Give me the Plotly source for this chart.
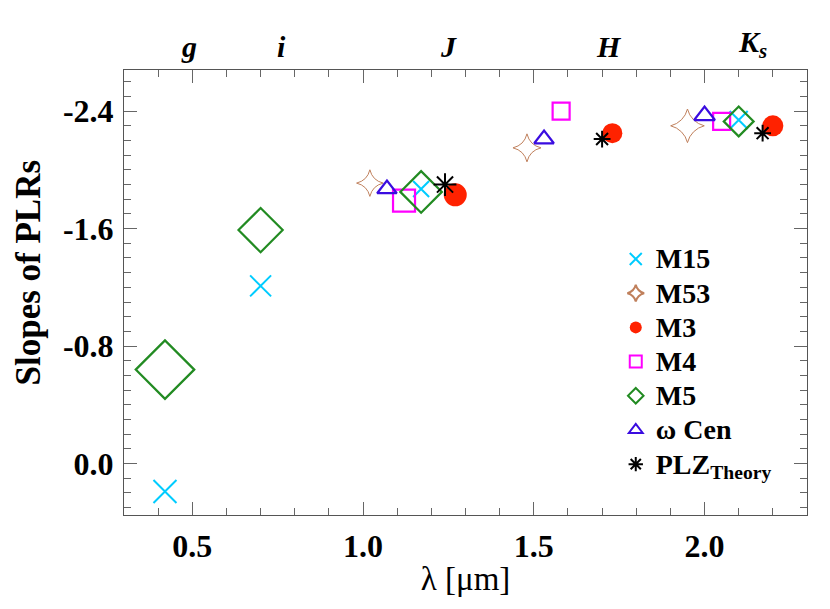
import plotly.graph_objects as go

# wavelength (micron) and PLR slope for each cluster
m15_x = [0.42, 0.70, 1.17, 2.10]
m15_y = [0.19, -1.21, -1.87, -2.34]
m15_size = [23, 21, 16, 18]

m53_x = [1.02, 1.48, 1.95]
m53_y = [-1.91, -2.15, -2.30]
m53_size = [19, 20, 24]

m3_x = [1.27, 1.73, 2.20]
m3_y = [-1.83, -2.25, -2.30]
m3_size = [23, 20, 21]

m4_x = [1.12, 1.58, 2.05]
m4_y = [-1.79, -2.40, -2.33]
m4_size = [22, 17, 17]

m5_x = [0.42, 0.70, 1.17, 2.10]
m5_y = [-0.64, -1.59, -1.85, -2.33]
m5_size = [45, 34, 32, 23]

wcen_x = [1.07, 1.53, 2.00]
wcen_y = [-1.87, -2.21, -2.37]
wcen_size = [17, 17, 18]

plz_x = [1.24, 1.70, 2.17]
plz_y = [-1.90, -2.21, -2.25]
plz_size = [19, 14, 14]

# axis ticks (plain hyphen like the original, not the unicode minus)
x_ticks = [0.5, 1.0, 1.5, 2.0]
x_ticktext = ['0.5', '1.0', '1.5', '2.0']
y_ticks = [-2.4, -1.6, -0.8, 0.0]
y_ticktext = ['-2.4', '-1.6', '-0.8', '0.0']

# photometric band labels along the top axis
band_labels = ['g', 'i', 'J', 'H', 'K<sub>s</sub>']
band_x = [0.49, 0.76, 1.25, 1.72, 2.14]

serif = 'Liberation Serif'


def big(txt):
    # larger legend text without making the legend rows taller
    return '<span style="font-size:28px">' + txt + '</span>'


fig = go.Figure()

series = [
    ('M15', m15_x, m15_y, m15_size, 'x-thin-open', '#00ccff', 2),
    ('M53', m53_x, m53_y, m53_size, 'star-diamond-open', '#c0805c', 1),
    ('M3', m3_x, m3_y, m3_size, 'circle', '#ff2200', 0),
    ('M4', m4_x, m4_y, m4_size, 'square-open', '#ff00ff', 2.2),
    ('M5', m5_x, m5_y, m5_size, 'diamond-open', '#228b22', 2.2),
    ('ω Cen', wcen_x, wcen_y, wcen_size, 'triangle-up-open', '#3a0ce0', 2.2),
    ('PLZ<sub>Theory</sub>', plz_x, plz_y, plz_size, 'asterisk-open', '#000000', 2),
]

for name, xs, ys, sz, sym, col, lw in series:
    fig.add_trace(go.Scatter(
        x=xs, y=ys, mode='markers', name=big(name),
        marker=dict(symbol=sym, size=sz, color=col, opacity=1,
                    line=dict(color=col, width=lw)),
    ))

annots = []
for lab, bx in zip(band_labels, band_x):
    annots.append(dict(
        x=bx, y=1, xref='x', yref='paper', yanchor='bottom',
        yshift=5, showarrow=False, text=lab,
        font=dict(family=serif, size=30, color='black',
                  weight='bold', style='italic'),
    ))

# y title placed by hand, the original sits a bit above the plot centre
annots.append(dict(
    x=0, y=0.545, xref='paper', yref='paper', xshift=-96,
    xanchor='center', yanchor='middle', textangle=-90,
    showarrow=False, text='Slopes of PLRs',
    font=dict(family=serif, size=35, color='black', weight='bold'),
))

# page body adds an 8px offset, so the figure is sized to fit the window
fig.update_layout(
    width=822, height=601,
    margin=dict(l=116, r=23, t=62, b=94),
    paper_bgcolor='white', plot_bgcolor='white',
    showlegend=True,
    legend=dict(
        x=0.72, y=0.625, xanchor='left', yanchor='top',
        bgcolor='rgba(0,0,0,0)', itemsizing='constant',
        font=dict(family=serif, size=24, color='black', weight='bold'),
        tracegroupgap=0,
    ),
    annotations=annots,
)

fig.update_xaxes(
    range=[0.3, 2.3], tickmode='array', tickvals=x_ticks, ticktext=x_ticktext,
    showline=True, linecolor='#555', linewidth=1, mirror='ticks',
    ticks='inside', ticklen=13, tickcolor='#666', tickwidth=1,
    minor=dict(tickmode='linear', tick0=0, dtick=0.1, ticks='inside',
               ticklen=7, tickcolor='#666'),
    showgrid=False, zeroline=False, automargin=False,
    tickfont=dict(family=serif, size=32, color='black', weight='bold'),
    ticklabelstandoff=3,
    title=dict(text='λ [μm]', standoff=3,
               font=dict(family=serif, size=33, color='black')),
)
fig.update_yaxes(
    range=[0.35, -2.68], tickmode='array', tickvals=y_ticks, ticktext=y_ticktext,
    showline=True, linecolor='#555', linewidth=1, mirror='ticks',
    ticks='inside', ticklen=13, tickcolor='#666', tickwidth=1,
    minor=dict(tickmode='linear', tick0=0, dtick=0.1, ticks='inside',
               ticklen=7, tickcolor='#666'),
    showgrid=False, zeroline=False, automargin=False,
    tickfont=dict(family=serif, size=32, color='black', weight='bold'),
    ticklabelstandoff=3,
)

fig.write_html('out.html')
